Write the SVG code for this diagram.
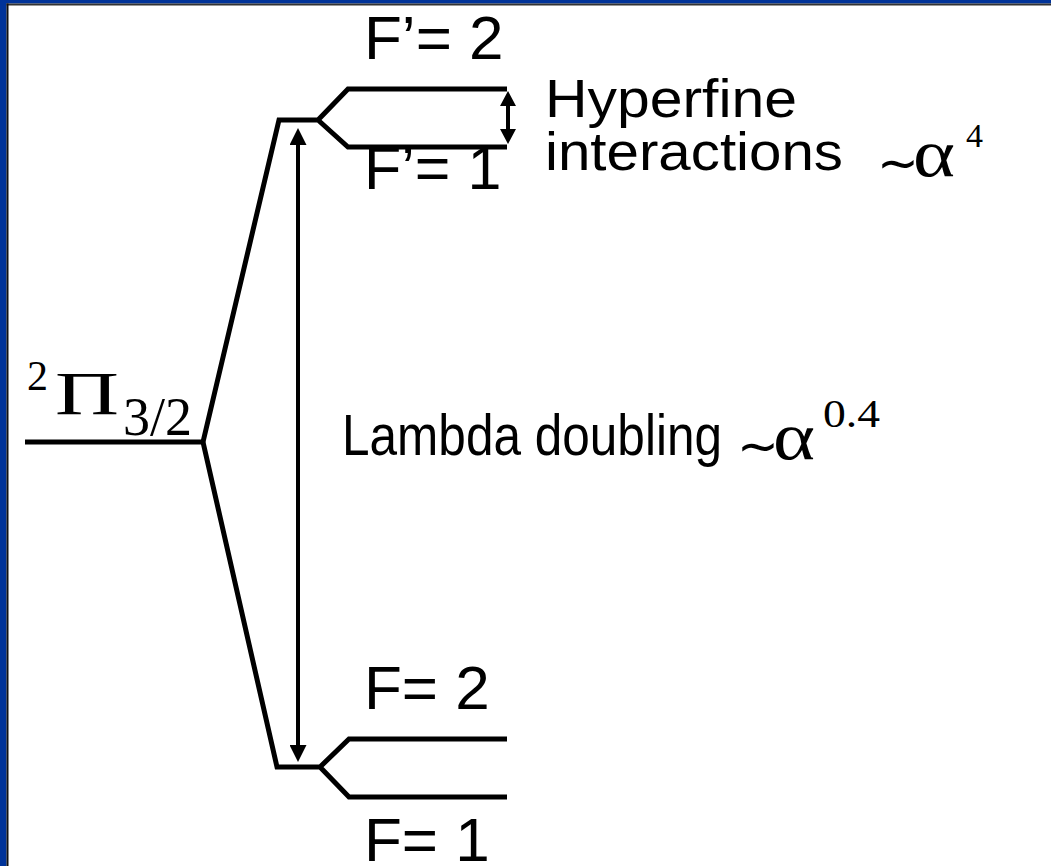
<svg xmlns="http://www.w3.org/2000/svg" width="1051" height="866" viewBox="0 0 1051 866">
<defs>
<style>
.s{font-family:"Liberation Sans",Arial,sans-serif;fill:#000}
.t{font-family:"Liberation Serif","Times New Roman",serif;fill:#000}
.ln{fill:none;stroke:#000;stroke-width:5;stroke-linejoin:miter}
.ar{fill:none;stroke:#000;stroke-width:4}
</style>
<marker id="ah" viewBox="0 0 10 10" refX="0" refY="5" markerWidth="17" markerHeight="17" markerUnits="userSpaceOnUse" orient="auto-start-reverse"><path d="M0,0 L10,5 L0,10 z" fill="#000"/></marker>
<marker id="ahs" viewBox="0 0 10 10" refX="0" refY="5" markerWidth="15" markerHeight="16" markerUnits="userSpaceOnUse" orient="auto-start-reverse" preserveAspectRatio="none"><path d="M0,0 L10,5 L0,10 z" fill="#000"/></marker>
</defs>
<rect x="0" y="0" width="1051" height="866" fill="#fff"/>
<g id="frame">
<rect x="0" y="0" width="1051" height="3.5" fill="#003399"/>
<rect x="0" y="0" width="6.5" height="866" fill="#003399"/>
<rect x="6.5" y="3.5" width="1045" height="2" fill="#333"/>
<rect x="6.5" y="3.5" width="2" height="863" fill="#111"/>
</g>
<g id="ground-level">
<path class="ln" d="M25,442 H203"/>
<text class="t" x="27" y="390" font-size="42">2</text>
<text class="t" x="55" y="414" font-size="62" textLength="64" lengthAdjust="spacingAndGlyphs">Π</text>
<text class="t" x="123" y="435" font-size="54">3/2</text>
</g>
<g id="upper-level">
<path class="ln" d="M203,442 L279,120 H318 L348,89 H507 M318,120 L348,147 H507"/>
<text class="s" x="364" y="59" font-size="62">F’= 2</text>
<text class="s" x="364" y="189" font-size="61">F’= 1</text>
</g>
<g id="lower-level">
<path class="ln" d="M203,442 L277,767 H320 L349,739 H507 M320,767 L349,797 H507"/>
<text class="s" x="364" y="709" font-size="62">F= 2</text>
<text class="s" x="364" y="861" font-size="62">F= 1</text>
</g>
<g id="connectors">
<path class="ar" d="M298,145 V745" marker-start="url(#ah)" marker-end="url(#ah)"/>
<path class="ar" d="M508,106 V129" marker-start="url(#ahs)" marker-end="url(#ahs)"/>
</g>
<g id="hyperfine-label">
<text class="s" x="545" y="117" font-size="54" textLength="252" lengthAdjust="spacingAndGlyphs">Hyperfine</text>
<text class="s" x="545" y="170" font-size="54" textLength="298" lengthAdjust="spacingAndGlyphs">interactions</text>
<text class="t" x="877" y="180" font-size="50">∼<tspan x="913" y="176" font-size="68" textLength="42" lengthAdjust="spacingAndGlyphs">α</tspan><tspan x="966" y="147" font-size="34">4</tspan></text>
</g>
<g id="lambda-label">
<text class="s" x="342" y="455" font-size="58" textLength="380" lengthAdjust="spacingAndGlyphs">Lambda doubling</text>
<text class="t" x="737" y="463" font-size="50">∼<tspan x="773" y="459" font-size="68" textLength="42" lengthAdjust="spacingAndGlyphs">α</tspan><tspan x="823" y="427" font-size="40" textLength="57" lengthAdjust="spacingAndGlyphs">0.4</tspan></text>
</g>
</svg>
